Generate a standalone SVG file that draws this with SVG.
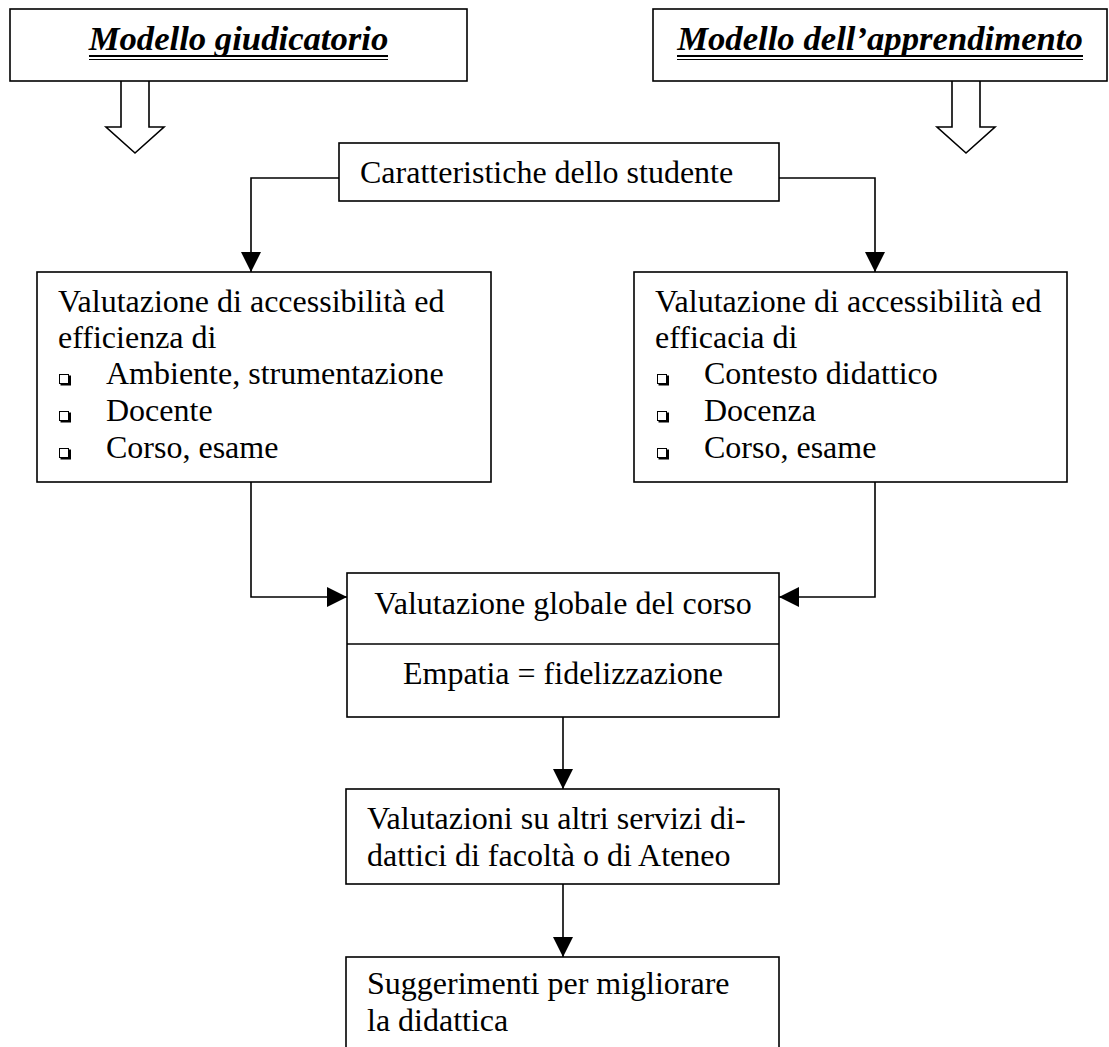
<svg xmlns="http://www.w3.org/2000/svg" width="1109" height="1047" viewBox="0 0 1109 1047">
<style>
.box{fill:#fff;stroke:#000;stroke-width:1.6}
.t{font-family:"Liberation Serif","Times New Roman",serif;font-size:32px;fill:#000}
.h{font-family:"Liberation Serif","Times New Roman",serif;font-size:34.7px;font-weight:bold;font-style:italic;fill:#000}
.c{fill:none;stroke:#000;stroke-width:1.6}
.ul{stroke:#000}
.blk{fill:none;stroke:#000;stroke-width:1.6;stroke-linejoin:miter}
</style>
<defs>
<marker id="ah" viewBox="0 0 20 20" refX="20" refY="10" markerWidth="20" markerHeight="20" markerUnits="userSpaceOnUse" orient="auto">
<path d="M0,0 L20,10 L0,20 Z" fill="#000"/>
</marker>
<g id="bul">
<rect x="0.5" y="0.5" width="9" height="9" fill="#fff" stroke="#000" stroke-width="1"/>
<path d="M1.5,10.5 H11 V1.5" fill="none" stroke="#000" stroke-width="2"/>
</g>
</defs>
<rect width="1109" height="1047" fill="#fff"/>

<g id="modello-giudicatorio">
<rect class="box" x="10" y="9" width="457" height="72"/>
<text class="h" x="238.5" y="50" text-anchor="middle">Modello giudicatorio</text>
<line class="ul" x1="89" y1="56" x2="388" y2="56" stroke-width="1.8"/>
<line class="ul" x1="89" y1="59.5" x2="388" y2="59.5" stroke-width="1.2"/>
</g>

<g id="modello-apprendimento">
<rect class="box" x="653" y="9" width="454" height="72"/>
<text class="h" x="880" y="50" text-anchor="middle">Modello dell’apprendimento</text>
<line class="ul" x1="677" y1="56" x2="1083" y2="56" stroke-width="1.8"/>
<line class="ul" x1="677" y1="59.5" x2="1083" y2="59.5" stroke-width="1.2"/>
</g>

<g id="block-arrows">
<path class="blk" d="M121,81 V127 H106 L135,153 L164,127 H149 V81"/>
<path class="blk" d="M952,81 V127 H937 L966,153 L995,127 H980 V81"/>
</g>

<g id="caratteristiche">
<rect class="box" x="339" y="143" width="440" height="58"/>
<text class="t" x="360" y="183">Caratteristiche dello studente</text>
</g>

<g id="valutazione-efficienza">
<rect class="box" x="37" y="272" width="454" height="210"/>
<text class="t" x="58" y="312">Valutazione di accessibilità ed</text>
<text class="t" x="58" y="348">efficienza di</text>
<use href="#bul" x="59" y="374"/>
<text class="t" x="106" y="384">Ambiente, strumentazione</text>
<use href="#bul" x="59" y="411"/>
<text class="t" x="106" y="421">Docente</text>
<use href="#bul" x="59" y="448"/>
<text class="t" x="106" y="458">Corso, esame</text>
</g>

<g id="valutazione-efficacia">
<rect class="box" x="634" y="272" width="433" height="210"/>
<text class="t" x="655" y="312">Valutazione di accessibilità ed</text>
<text class="t" x="655" y="348">efficacia di</text>
<use href="#bul" x="657" y="374"/>
<text class="t" x="704" y="384">Contesto didattico</text>
<use href="#bul" x="657" y="411"/>
<text class="t" x="704" y="421">Docenza</text>
<use href="#bul" x="657" y="448"/>
<text class="t" x="704" y="458">Corso, esame</text>
</g>

<g id="valutazione-globale">
<rect class="box" x="347" y="573" width="432" height="144"/>
<line class="c" x1="347" y1="644" x2="779" y2="644"/>
<text class="t" x="563" y="614" text-anchor="middle">Valutazione globale del corso</text>
<text class="t" x="563" y="684" text-anchor="middle">Empatia = fidelizzazione</text>
</g>

<g id="valutazioni-servizi">
<rect class="box" x="346" y="789" width="433" height="95"/>
<text class="t" x="367" y="829">Valutazioni su altri servizi di-</text>
<text class="t" x="367" y="866">dattici di facoltà o di Ateneo</text>
</g>

<g id="suggerimenti">
<rect class="box" x="346" y="957" width="433" height="95"/>
<text class="t" x="367" y="994">Suggerimenti per migliorare</text>
<text class="t" x="367" y="1031">la didattica</text>
</g>

<g id="connectors">
<path class="c" d="M339,178 H251 V272" marker-end="url(#ah)"/>
<path class="c" d="M779,178 H875 V272" marker-end="url(#ah)"/>
<path class="c" d="M251,482 V597 H347" marker-end="url(#ah)"/>
<path class="c" d="M875,482 V597 H779" marker-end="url(#ah)"/>
<path class="c" d="M563,717 V789" marker-end="url(#ah)"/>
<path class="c" d="M563,884 V957" marker-end="url(#ah)"/>
</g>
</svg>
